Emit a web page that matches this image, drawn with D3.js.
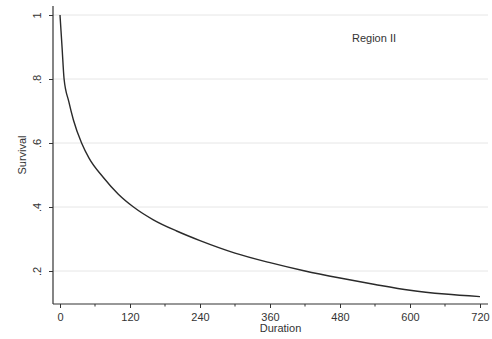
<!DOCTYPE html>
<html>
<head>
<meta charset="utf-8">
<script src="https://cdn.jsdelivr.net/npm/d3@7"></script>
<style>
  body { margin: 0; background: #fff; }
  text { font-family: "Liberation Sans", Arial, sans-serif; fill: #333; }
</style>
</head>
<body>
<div id="chart"></div>
<script>
// Survival curve
const duration = [0, 3.5, 7, 15, 23, 37, 50, 74, 100, 126, 160, 200, 240, 300, 360, 420, 480, 540, 600, 660, 720];
const survival = [1, 0.90, 0.80, 0.73, 0.672, 0.60, 0.552, 0.493, 0.44, 0.40, 0.36, 0.325, 0.295, 0.256, 0.226, 0.200, 0.178, 0.158, 0.140, 0.128, 0.120];
const xTicks = [0, 120, 240, 360, 480, 600, 720];
const xMinor = [60, 180, 300, 420, 540, 660];
const yTicks = [0.2, 0.4, 0.6, 0.8, 1];
const yTickLabels = [".2", ".4", ".6", ".8", "1"];

const W = 492, H = 339;
const svg = d3.select("#chart").append("svg")
    .attr("width", W)
    .attr("height", H);

const x = d3.scaleLinear().domain([0, 720]).range([60, 480]);
const y = d3.scaleLinear().domain([0.2, 1]).range([271, 15]);

const plotLeft = 53, plotRight = 488, plotTop = 6, plotBottom = 304;

// gridlines
svg.append("g")
    .selectAll("line")
    .data(yTicks)
    .join("line")
    .attr("x1", plotLeft)
    .attr("x2", plotRight)
    .attr("y1", d => y(d))
    .attr("y2", d => y(d))
    .attr("stroke", "#e6e6e6")
    .attr("stroke-width", 1);

// x axis
const xAxis = svg.append("g")
    .attr("transform", `translate(0,${plotBottom})`)
    .call(d3.axisBottom(x).tickValues(xTicks).tickSize(4).tickPadding(5));
xAxis.select(".domain").remove();
xAxis.append("line")
    .attr("x1", plotLeft).attr("x2", plotRight)
    .attr("stroke", "#333").attr("stroke-width", 1.2);
xAxis.selectAll(".tick line").attr("stroke", "#333");
xAxis.selectAll("text")
    .style("font-size", "11px")
    .attr("fill", "#333");
xAxis.append("g")
    .selectAll("line")
    .data(xMinor)
    .join("line")
    .attr("x1", d => x(d)).attr("x2", d => x(d))
    .attr("y1", 0).attr("y2", 2.5)
    .attr("stroke", "#333");

// y axis
const yAxis = svg.append("g")
    .attr("transform", `translate(${plotLeft},0)`)
    .call(d3.axisLeft(y).tickValues(yTicks).tickSize(4).tickFormat((d, i) => yTickLabels[i]));
yAxis.select(".domain").remove();
yAxis.append("line")
    .attr("y1", plotTop).attr("y2", plotBottom)
    .attr("stroke", "#333").attr("stroke-width", 1.2);
yAxis.selectAll(".tick line").attr("stroke", "#333");
yAxis.selectAll(".tick text")
    .attr("x", 0).attr("dy", 0)
    .attr("transform", "translate(-12,0) rotate(-90)")
    .attr("text-anchor", "middle")
    .style("font-size", "11px")
    .attr("fill", "#333");

// curve
const pts = duration.map((d, i) => [d, survival[i]]);
svg.append("path")
    .datum(pts)
    .attr("fill", "none")
    .attr("stroke", "#2a2a2a")
    .attr("stroke-width", 1.4)
    .attr("d", d3.line().x(d => x(d[0])).y(d => y(d[1])).curve(d3.curveMonotoneX));

// labels
svg.append("text")
    .attr("x", (plotLeft + plotRight) / 2 + 10)
    .attr("y", 332)
    .attr("text-anchor", "middle")
    .style("font-size", "11px")
    .text("Duration");

svg.append("text")
    .attr("transform", "translate(26,155) rotate(-90)")
    .attr("text-anchor", "middle")
    .style("font-size", "11px")
    .text("Survival");

svg.append("text")
    .attr("x", 352)
    .attr("y", 42)
    .style("font-size", "11px")
    .text("Region II");
</script>
</body>
</html>
